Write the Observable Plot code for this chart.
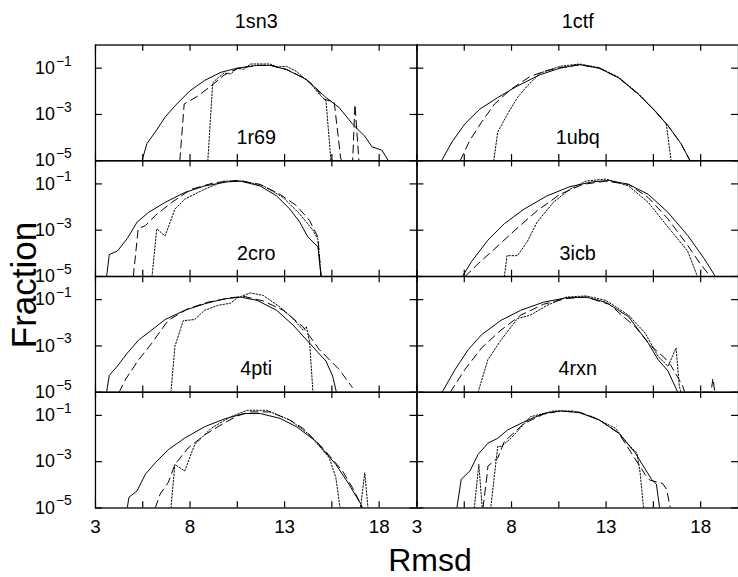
<!DOCTYPE html>
<html><head><meta charset="utf-8">
<script src="https://cdn.jsdelivr.net/npm/d3@7"></script>
<script src="https://cdn.jsdelivr.net/npm/@observablehq/plot@0.6"></script>
<style>
body{margin:0;background:#fff;}
#wrap{position:relative;width:738px;height:577px;overflow:hidden;font-family:"Liberation Sans",Arial,sans-serif;background:#fff;}
#chart{position:absolute;left:0;top:0;}
.lab{position:absolute;line-height:0.9;white-space:nowrap;color:#000;}
</style></head><body>
<div id="wrap"><div id="chart"></div>
<div class="lab" style="left:24px;top:285px;font-size:35px;transform:translate(-50%,-50%) rotate(-90deg);">Fraction</div>
<div class="lab" style="left:430px;top:560px;font-size:32px;transform:translate(-50%,-50%);">Rmsd</div>
</div>
<script>
// axes
const columns = ["1sn3", "1ctf"];
const rows = ["1", "2", "3", "4"];
const xTicks = [3, 5.5, 8, 10.5, 13, 15.5, 18];
const xLabels = [3, 8, 13, 18];
const yTicks = [1e-1, 1e-3, 1e-5];

// series: [rmsd, log10(fraction)]
const r69Solid = [[5.46,-5],[5.72,-4.26],[6.16,-3.76],[6.68,-3.12],[7.2,-2.63],[7.98,-1.99],[8.77,-1.53],[9.63,-1.18],[10.5,-1.0],[11.54,-0.88],[12.23,-0.88],[13.1,-1.06],[14.15,-1.49],[15.19,-2.27],[15.88,-2.7],[16.58,-3.4],[17.27,-3.97],[17.62,-4.4],[18.14,-4.54],[18.49,-5]];
const r69Dashed = [[7.46,-5],[7.69,-2.55],[8.42,-2.2],[9.11,-1.77],[9.8,-1.3],[10.5,-1.02],[11.5,-0.88],[12.3,-0.88],[13.1,-1.05],[14.1,-1.45],[14.6,-1.8],[15.1,-2.35],[15.62,-2.45],[15.97,-4.92],[16.05,-5],[16.6,-5],[16.72,-2.57],[16.93,-5]];
const r69Dotted = [[8.94,-5],[9.2,-1.63],[9.5,-1.4],[9.8,-1.21],[10.15,-1.25],[10.5,-1.0],[10.85,-1.05],[11.2,-0.82],[12.23,-0.82],[12.6,-0.95],[13.1,-0.92],[13.63,-1.14],[14.41,-1.7],[14.84,-2.13],[15.19,-2.41],[15.45,-5]];

const ubqSolid = [[4.3,-5],[4.85,-4.19],[5.54,-3.4],[6.32,-2.77],[7.27,-2.27],[8.31,-1.77],[9.52,-1.28],[10.56,-1.0],[11.6,-0.85],[12.64,-1.0],[13.67,-1.42],[14.71,-2.13],[15.57,-2.84],[16.27,-3.48],[16.96,-4.26],[17.44,-5]];
const ubqDashed = [[5.28,-5],[5.8,-4.11],[6.41,-3.34],[7.1,-2.55],[7.97,-1.91],[9.0,-1.35],[9.9,-1.1],[10.56,-0.98],[11.6,-0.85],[12.64,-1.0],[13.67,-1.42],[14.71,-2.13],[15.57,-2.84],[16.27,-3.48],[16.96,-4.26],[17.44,-5]];
const ubqDotted = [[7.06,-5],[7.27,-3.76],[7.79,-2.98],[8.31,-2.27],[8.83,-1.77],[9.52,-1.21],[10.56,-0.92],[11.6,-0.82],[12.64,-0.98],[13.67,-1.4],[14.71,-2.1],[15.57,-2.82],[16.18,-3.4],[16.44,-5]];

const croSolid = [[3.59,-5],[3.73,-4.05],[4.16,-3.9],[4.68,-3.36],[5.2,-2.65],[5.81,-2.23],[6.68,-1.8],[7.72,-1.37],[8.77,-1.09],[9.98,-0.91],[10.67,-0.88],[11.71,-1.09],[12.58,-1.52],[13.28,-2.09],[13.8,-2.65],[14.23,-3.29],[14.76,-3.72],[14.93,-5]];
const croDashed = [[5.0,-5],[5.26,-2.94],[5.64,-2.8],[6.16,-2.37],[7.03,-1.8],[8.07,-1.23],[9.28,-0.95],[10.5,-0.85],[11.71,-1.02],[12.76,-1.45],[13.63,-1.94],[14.32,-2.58],[14.76,-3.29],[14.93,-5]];
const croDotted = [[5.99,-5],[6.24,-2.94],[6.68,-3.25],[7.2,-2.09],[7.72,-1.66],[8.77,-1.23],[9.8,-0.88],[10.85,-0.88],[11.88,-1.09],[12.93,-1.59],[13.8,-2.3],[14.5,-3.0],[14.76,-3.4],[14.93,-5]];

const icbSolid = [[5.4,-5],[5.89,-4.35],[6.75,-3.43],[7.62,-2.72],[8.66,-2.09],[9.87,-1.52],[11.08,-1.12],[12.29,-0.91],[13.16,-0.85],[14.19,-1.02],[15.23,-1.45],[16.27,-2.23],[17.31,-3.22],[18.17,-4.21],[18.78,-5]];
const icbDashed = [[5.54,-5],[6.23,-4.45],[7.1,-3.81],[8.14,-3.03],[9.35,-2.16],[10.56,-1.45],[11.77,-1.02],[12.98,-0.88],[14.19,-1.02],[15.23,-1.59],[16.27,-2.51],[17.31,-3.65],[18.0,-4.48],[18.52,-5]];
const icbDotted = [[7.62,-5],[7.76,-4.1],[8.31,-4.1],[8.83,-3.5],[9.35,-2.65],[10.21,-1.8],[11.08,-1.23],[11.94,-0.88],[12.98,-0.79],[14.19,-1.09],[15.23,-1.8],[16.27,-2.86],[17.31,-3.9],[17.83,-5]];

const ptiSolid = [[3.59,-5],[3.73,-4.27],[4.16,-3.87],[4.68,-3.31],[5.29,-2.74],[5.98,-2.31],[6.68,-1.86],[7.72,-1.46],[8.77,-1.18],[9.8,-0.97],[10.67,-0.89],[11.54,-1.03],[12.58,-1.46],[13.45,-2.1],[14.32,-2.88],[15.19,-3.66],[15.54,-4.3],[15.74,-5]];
const ptiDashed = [[4.25,-5],[4.6,-4.43],[5.29,-3.59],[5.98,-2.88],[6.85,-1.89],[7.9,-1.39],[8.94,-1.11],[10.15,-0.92],[10.85,-0.86],[11.88,-1.06],[12.93,-1.46],[13.97,-2.17],[14.84,-3.16],[15.88,-4.01],[16.58,-4.79]];
const ptiDotted = [[6.99,-5],[7.2,-3.02],[7.64,-1.91],[8.24,-1.86],[8.77,-1.46],[9.46,-1.25],[10.15,-1.15],[10.5,-0.92],[11.2,-0.71],[11.88,-0.82],[12.76,-1.32],[13.45,-1.82],[13.97,-2.31],[14.15,-2.17],[14.32,-2.81],[14.5,-5]];

const rxnSolid = [[4.33,-5],[5.02,-4.01],[5.71,-3.16],[6.41,-2.52],[7.45,-1.89],[8.49,-1.46],[9.69,-1.11],[10.9,-0.92],[11.94,-0.89],[12.98,-1.11],[14.19,-1.74],[15.23,-2.88],[15.75,-3.59],[16.27,-4.08],[16.79,-5]];
const rxnDashed = [[4.76,-5],[5.54,-4.01],[6.41,-3.09],[7.45,-2.31],[8.49,-1.67],[9.69,-1.2],[10.9,-0.95],[11.94,-0.89],[13.16,-1.2],[14.54,-2.17],[15.4,-3.02],[16.1,-3.52],[16.44,-3.86],[17.05,-4.72],[17.15,-5],[18.55,-5],[18.65,-4.4],[18.75,-5]];
const rxnDotted = [[6.23,-5],[6.75,-3.59],[7.45,-2.74],[8.31,-1.82],[9.0,-1.67],[9.87,-1.25],[10.9,-0.89],[11.94,-0.84],[12.98,-1.03],[14.19,-1.67],[15.06,-2.44],[15.75,-3.45],[16.27,-3.88],[16.7,-3.09],[16.87,-4.72],[16.95,-5]];

const sn3Solid = [[4.68,-5],[4.77,-4.54],[5.2,-4.26],[5.64,-3.54],[6.16,-3.05],[6.85,-2.48],[7.72,-1.98],[8.77,-1.49],[9.8,-1.16],[10.85,-0.92],[11.71,-0.92],[12.76,-1.13],[13.63,-1.49],[14.67,-2.13],[15.71,-3.12],[16.4,-3.97],[17.02,-4.82],[17.11,-5]];
const sn3Dashed = [[6.16,-5],[6.42,-4.4],[6.85,-3.9],[7.2,-3.12],[7.9,-2.41],[8.77,-1.84],[9.8,-1.33],[10.5,-1.02],[11.2,-0.85],[12.23,-0.85],[13.28,-1.2],[13.97,-1.56],[15.02,-2.41],[16.06,-3.4],[16.58,-4.11],[17.02,-4.82],[17.11,-5]];
const sn3Dotted = [[6.99,-5],[7.2,-3.12],[7.72,-3.4],[8.24,-2.27],[9.11,-1.56],[10.15,-1.06],[11.02,-0.78],[12.06,-0.78],[13.28,-1.2],[14.32,-1.84],[15.36,-2.83],[15.71,-3.69],[15.93,-5],[17.01,-5],[17.24,-3.48],[17.41,-5]];

const ctfSolid = [[5.11,-5],[5.34,-3.76],[5.8,-3.4],[6.23,-2.69],[6.75,-2.2],[7.27,-1.99],[7.79,-1.63],[8.66,-1.28],[9.69,-0.92],[10.56,-0.81],[11.6,-0.88],[12.64,-1.2],[13.67,-1.77],[14.54,-2.62],[15.4,-3.76],[15.66,-3.97],[15.83,-5]];
const ctfDashed = [[6.49,-5],[6.72,-3.48],[6.75,-3.19],[7.27,-2.84],[7.62,-2.13],[8.66,-1.35],[9.69,-0.95],[10.56,-0.81],[11.6,-0.86],[12.64,-1.2],[13.67,-1.77],[15.06,-3.55],[15.32,-3.8],[15.99,-3.94],[16.2,-4.2],[16.35,-4.82],[16.4,-5]];
const ctfDotted = [[6.03,-5],[6.27,-3.12],[6.45,-5],[6.9,-5],[7.27,-2.34],[7.45,-2.34],[7.97,-1.99],[9.0,-1.06],[10.21,-0.81],[11.25,-0.81],[12.29,-1.06],[13.5,-1.56],[14.19,-2.27],[14.63,-2.62],[14.8,-3.48],[14.98,-5]];

const panels = [
  {col:"1sn3", row:"1", label:"1r69", solid:r69Solid, dashed:r69Dashed, dotted:r69Dotted},
  {col:"1ctf", row:"1", label:"1ubq", solid:ubqSolid, dashed:ubqDashed, dotted:ubqDotted},
  {col:"1sn3", row:"2", label:"2cro", solid:croSolid, dashed:croDashed, dotted:croDotted},
  {col:"1ctf", row:"2", label:"3icb", solid:icbSolid, dashed:icbDashed, dotted:icbDotted},
  {col:"1sn3", row:"3", label:"4pti", solid:ptiSolid, dashed:ptiDashed, dotted:ptiDotted},
  {col:"1ctf", row:"3", label:"4rxn", solid:rxnSolid, dashed:rxnDashed, dotted:rxnDotted},
  {col:"1sn3", row:"4", label:"", solid:sn3Solid, dashed:sn3Dashed, dotted:sn3Dotted},
  {col:"1ctf", row:"4", label:"", solid:ctfSolid, dashed:ctfDashed, dotted:ctfDotted}
];

const records = [];
for (const p of panels) for (const s of ["solid","dashed","dotted"]) for (const [x, e] of p[s]) {
  records.push({col: p.col, row: p.row, style: s, key: p.col + p.row + s, x, y: Math.pow(10, e)});
}
const labelData = panels.filter(p => p.label).map(p => ({col: p.col, row: p.row, label: p.label}));

const facetH = (577 - 43 - 63) / 4;
const facetW = (746 - 96) / 2;
const tk = 7;

function lineMark(style, dash) {
  return Plot.line(records.filter(d => d.style === style), {
    x: "x", y: "y", z: "key", fx: "col", fy: "row",
    stroke: "#000", strokeWidth: 1, strokeDasharray: dash, clip: true
  });
}

const chart = Plot.plot({
  width: 746, height: 577,
  marginLeft: 96, marginRight: 0, marginTop: 43, marginBottom: 63,
  style: {fontFamily: '"Liberation Sans", Arial, sans-serif', background: "#fff", color: "#000"},
  x: {domain: [3, 20]},
  y: {type: "log", domain: [1e-5, 1]},
  fx: {domain: columns, padding: 0},
  fy: {domain: rows, padding: 0, axis: null},
  marks: [
    lineMark("solid", null),
    lineMark("dashed", "8,5"),
    lineMark("dotted", "1.5,1.8"),
    Plot.frame({stroke: "#000", strokeWidth: 1.3}),
    Plot.tickX(xTicks, {x: d => d, insetTop: facetH - tk, stroke: "#000", strokeWidth: 1.2}),
    Plot.tickX(xTicks, {x: d => d, insetBottom: facetH - tk, stroke: "#000", strokeWidth: 1.2}),
    Plot.tickY(yTicks, {y: d => d, insetRight: facetW - tk, stroke: "#000", strokeWidth: 1.2}),
    Plot.tickY(yTicks, {y: d => d, insetLeft: facetW - tk, stroke: "#000", strokeWidth: 1.2}),
    Plot.axisX(xLabels, {anchor: "bottom", tickSize: 0, tickPadding: 12, fontSize: 19, label: null, tickFormat: d => String(d)}),
    Plot.axisY(yTicks, {anchor: "left", tickSize: 0, tickPadding: 41, fontSize: 18, label: null, tickFormat: () => "10"}),
    Plot.axisY(yTicks, {anchor: "left", tickSize: 0, tickPadding: 24, fontSize: 14, dy: -7, label: null, tickFormat: v => "\u2212" + Math.round(-Math.log10(v))}),
    Plot.axisFx({anchor: "top", tickSize: 0, tickPadding: 17, fontSize: 20, label: null}),
    Plot.text(labelData, {fx: "col", fy: "row", text: "label", frameAnchor: "middle", dy: 35, fontSize: 20, fill: "#000"})
  ]
});
document.getElementById("chart").appendChild(chart);
</script>
</body></html>
